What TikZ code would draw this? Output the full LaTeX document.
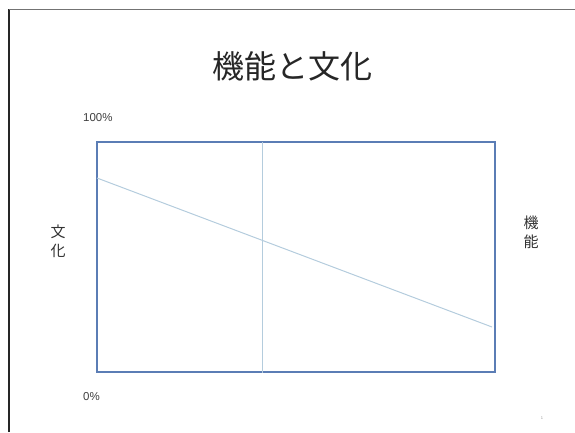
\documentclass[tikz,border=0pt]{standalone}
\usepackage{fontspec}
\setmainfont{Liberation Sans}
\newfontfamily\jpfont{Noto Sans CJK JP}
\usetikzlibrary{positioning}
\definecolor{boxblue}{HTML}{5B7DB5}
\definecolor{lineblue}{HTML}{B4CCDD}

\begin{document}
\begin{tikzpicture}[x=1pt,y=-1pt,
    lbl/.style={inner sep=0pt,font=\fontsize{11.5}{12}\selectfont,text=black!75},
    side/.style={inner sep=0pt,align=center,font=\jpfont\fontsize{15}{19}\selectfont,text=black!80}]
    \useasboundingbox (0,0) rectangle (575,432);
    \draw[black!85,line width=1.6pt] (9,432)--(9,9);
    \draw[black!55,line width=1pt] (9,9)--(575,9);
    \node[inner sep=0pt,font=\jpfont\fontsize{32}{32}\selectfont,text=black!85] (title) at (292,66) {機能と文化};
    \node[draw=boxblue,line width=1.4pt,minimum width=398pt,minimum height=230pt,inner sep=0pt] (chart) at (296,257) {};
    % axis labels
    \node[lbl,anchor=west] (top) at (83,118) {100\%};
    \node[lbl,anchor=west] (bot) at (83,397) {0\%};
    \node[side] (culture) at (58,241) {文\\化};
    \node[side] (func) at (531,232) {機\\能};
    \node[inner sep=0pt,font=\fontsize{4}{4}\selectfont,text=black!40] (page) at (542,418) {1};
    % inner lines
    \coordinate (mid) at (262,142);
    \coordinate (a) at (97,178);
    \coordinate (b) at (492,327);
    \draw[lineblue,line width=1pt] (mid)--(mid|-chart.south);
    \draw[lineblue,line width=1pt] (a)--(b);
\end{tikzpicture}
\end{document}
